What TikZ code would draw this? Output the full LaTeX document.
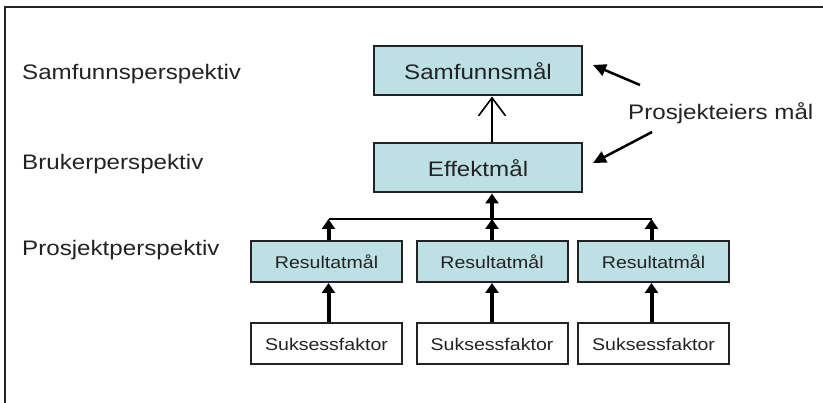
\documentclass[tikz,border=0pt]{standalone}
\usepackage{fontspec}
\setmainfont{Liberation Sans}[FakeStretch=1.15]
\usetikzlibrary{arrows.meta,calc}
\definecolor{boxfill}{RGB}{188,224,228}
\definecolor{ink}{RGB}{35,35,35}
\tikzset{
  goal/.style={draw=ink, line width=2pt, fill=boxfill, minimum width=208pt, minimum height=49pt,
    inner sep=0pt, font=\fontsize{21}{25}\selectfont, text=ink},
  small/.style={draw=ink, line width=2pt, fill=boxfill, minimum width=151pt, minimum height=41pt,
    inner sep=0pt, font=\fontsize{17}{20}\selectfont, text=ink},
  factor/.style={small, fill=white},
  lbl/.style={anchor=west, inner sep=0pt, font=\fontsize{21}{25}\selectfont, text=ink},
  fatarrow/.style={draw=black, line width=4pt, -{Triangle[length=10pt,width=13pt]}},
  openarrow/.style={draw=black, line width=1.6pt, -{Straight Barb[length=18pt,width=27pt,line width=1.6pt]}},
  notearrow/.style={draw=black, line width=2.5pt, -{Triangle[length=13pt,width=12pt]}},
  bus/.style={draw=black, line width=2pt}
}
\begin{document}
\begin{tikzpicture}[x=1pt,y=-1pt]
\useasboundingbox (0,0) rectangle (823,403);
\fill[white] (0,0) rectangle (823,403);
% frame
\draw[ink, line width=2pt] (5,403) -- (5,7) -- (823,7);

% labels
\node[lbl] (l1) at (22,74) {Samfunnsperspektiv};
\node[lbl] (l2) at (22,164) {Brukerperspektiv};
\node[lbl] (l3) at (22,250) {Prosjektperspektiv};
\node[lbl] (pe) at (628,113) {Prosjekteiers mål};

% boxes
\node[goal] (samf) at (478,71) {Samfunnsmål};
\node[goal] (eff) at (478,168) {Effektmål};
\node[small] (r1) at (326.5,261.5) {Resultatmål};
\node[small] (r2) at (492,261.5) {Resultatmål};
\node[small] (r3) at (653.5,261.5) {Resultatmål};
\node[factor] (s1) at (326.5,344) {Suksessfaktor};
\node[factor] (s2) at (492,344) {Suksessfaktor};
\node[factor] (s3) at (653.5,344) {Suksessfaktor};

% bus
\coordinate (b1) at ($(r1.north)+(2,-21)$);
\coordinate (b2) at ($(r2.north)+(0,-21)$);
\coordinate (b3) at ($(r3.north)+(-2,-21)$);
\draw[bus] (b1) -- (b3);

% connectors
\draw[fatarrow] (r1.north -| b1) -- (b1);
\draw[fatarrow] (r2.north) -- (b2);
\draw[fatarrow] (r3.north -| b3) -- (b3);
\draw[fatarrow] (b2) -- (b2 |- eff.south);
\draw[openarrow] (b2 |- eff.north) -- (b2 |- samf.south);

\draw[fatarrow] (s1.north -| b1) -- (r1.south -| b1);
\draw[fatarrow] (s2.north) -- (r2.south);
\draw[fatarrow] (s3.north -| b3) -- (r3.south -| b3);

% notes
\draw[notearrow] ($(pe.west)+(12,-28)$) -- ($(samf.east)+(10,-6)$);
\draw[notearrow] ($(pe.west)+(24,19)$) -- ($(eff.east)+(10,-5)$);
\end{tikzpicture}
\end{document}
